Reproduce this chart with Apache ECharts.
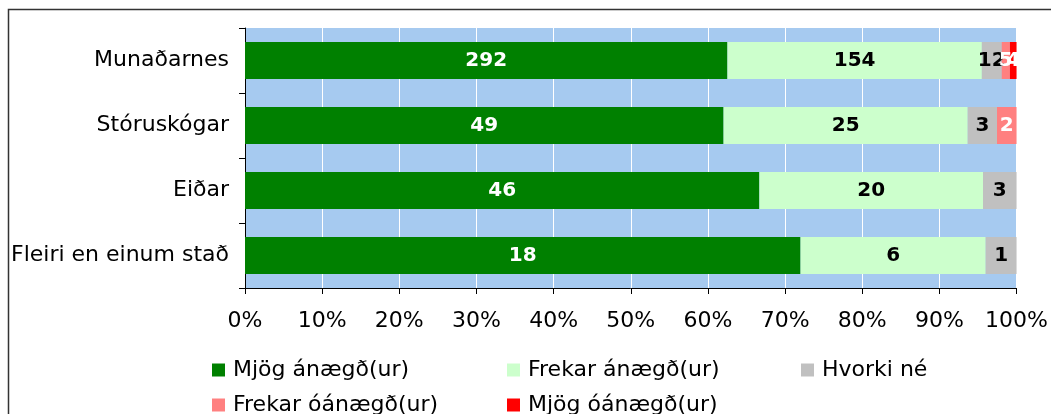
<!DOCTYPE html>
<html>
<head>
<meta charset="utf-8">
<script src="https://cdn.jsdelivr.net/npm/echarts@6/dist/echarts.min.js"></script>
<style>
  html, body { margin: 0; padding: 0; background: #fff; }
  #chart { width: 1051px; height: 414px; }
</style>
</head>
<body>
<div id="chart"></div>
<script>
// flokkar og fjöldi svara
var categories = ['Munaðarnes', 'Stóruskógar', 'Eiðar', 'Fleiri en einum stað'];
var seriesNames = ['Mjög ánægð(ur)', 'Frekar ánægð(ur)', 'Hvorki né', 'Frekar óánægð(ur)', 'Mjög óánægð(ur)'];
var mjogAnaegd = [292, 49, 46, 18];
var frekarAnaegd = [154, 25, 20, 6];
var hvorkiNe = [12, 3, 3, 1];
var frekarOanaegd = [5, 2, 0, 0];
var mjogOanaegd = [4, 0, 0, 0];
var xTicks = [0, 10, 20, 30, 40, 50, 60, 70, 80, 90, 100];

var colors = ['#008000', '#ccffcc', '#c0c0c0', '#ff8080', '#ff0000'];
var labelColors = ['#fff', '#000', '#000', '#fff', '#fff'];
var counts = [mjogAnaegd, frekarAnaegd, hvorkiNe, frekarOanaegd, mjogOanaegd];

var totals = categories.map(function (c, i) {
    var s = 0;
    counts.forEach(function (arr) { s += arr[i]; });
    return s;
});

var font = 'DejaVu Sans, Verdana, sans-serif';

var series = counts.map(function (arr, k) {
    return {
        name: seriesNames[k],
        type: 'bar',
        stack: 'total',
        barWidth: 37,
        itemStyle: { color: colors[k] },
        label: {
            show: true,
            position: 'inside',
            color: labelColors[k],
            fontFamily: font,
            fontWeight: 'bold',
            fontSize: 20,
            formatter: function (p) { return p.data.count ? p.data.count : ''; }
        },
        data: arr.map(function (v, i) {
            return v ? { value: v / totals[i] * 100, count: v } : { value: '-', count: 0 };
        })
    };
});

// ein legend fyrir hvern lið, raðað í dálka
var legendPos = [[212, 359], [507, 359], [801, 359], [212, 394], [507, 394]];
var legends = seriesNames.map(function (n, k) {
    return {
        data: [n],
        left: legendPos[k][0],
        top: legendPos[k][1],
        padding: 0,
        icon: 'rect',
        itemWidth: 13,
        itemHeight: 13,
        selectedMode: false,
        textStyle: { fontFamily: font, fontSize: 22, color: '#000', padding: [0, 0, 0, 3] }
    };
});

var myChart = echarts.init(document.getElementById('chart'), null, { renderer: 'canvas' });
myChart.setOption({
    animation: false,
    backgroundColor: '#fff',
    color: colors,
    graphic: [{
        type: 'rect',
        shape: { x: 8.5, y: 9.5, width: 1200, height: 600 },
        style: { fill: null, stroke: '#333', lineWidth: 1.5 },
        silent: true
    }],
    legend: legends,
    grid: {
        left: 245, right: 34, top: 28, bottom: 126,
        show: true, backgroundColor: '#a6caf0', borderWidth: 0
    },
    xAxis: {
        type: 'value',
        min: xTicks[0],
        max: xTicks[xTicks.length - 1],
        interval: 10,
        axisLine: { show: true, lineStyle: { color: '#000', width: 1 } },
        axisTick: { show: true, length: 6, lineStyle: { color: '#000' } },
        splitLine: { show: true, lineStyle: { color: '#fff', width: 1 } },
        axisLabel: { fontFamily: font, fontSize: 22, color: '#000', margin: 22, formatter: '{value}%' }
    },
    yAxis: {
        type: 'category',
        inverse: true,
        data: categories,
        axisLine: { show: true, lineStyle: { color: '#000', width: 1 } },
        axisTick: { show: true, length: 6, lineStyle: { color: '#000' } },
        axisLabel: { fontFamily: font, fontSize: 22, color: '#000', margin: 16 }
    },
    series: series
});
</script>
</body>
</html>
